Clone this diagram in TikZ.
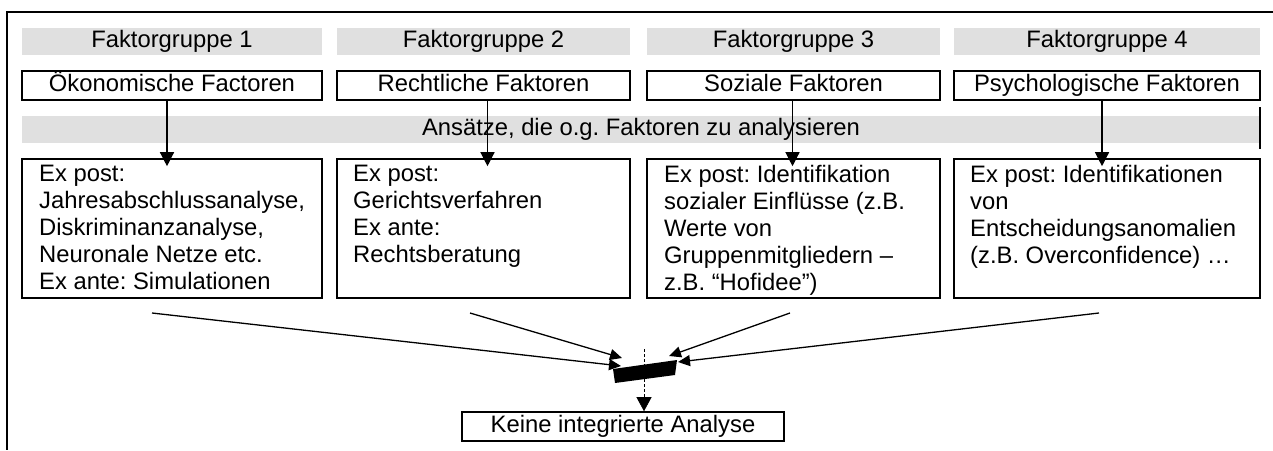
\documentclass[tikz,border=0pt]{standalone}
\usepackage{fontspec}
\setmainfont{Liberation Sans}
\frenchspacing
\usetikzlibrary{arrows.meta}
\definecolor{bandgrey}{RGB}{224,224,224}
\begin{document}
\begin{tikzpicture}[x=1pt,y=-1pt,
  every node/.style={font=\fontsize{23.8}{27}\selectfont\frenchspacing, inner sep=0pt},
  oneline/.style={text height=17pt, text depth=5pt},
  band/.style={oneline, fill=bandgrey, minimum height=27pt},
  factbox/.style={oneline, draw, line width=1.6pt, minimum height=29pt},
  lowbox/.style={draw, line width=1.6pt, minimum height=139pt},
  lowtext/.style={align=left, anchor=north west},
  frame/.style={line width=1.8pt},
  toparrow/.style={line width=1.3pt, -{Triangle[length=14pt,width=14pt]}},
  convarrow/.style={line width=1.3pt, -{Triangle[length=12pt,width=11pt]}},
  dasharrow/.style={line width=0.6pt, dash pattern=on 3pt off 2pt, -{Triangle[length=14pt,width=15pt]}}
]
\useasboundingbox (0,0) rectangle (1273,450);
% outer frame
\coordinate (fa) at (7,12);
\coordinate (fb) at (1273,12);
\coordinate (fc) at (7,450);
\draw[frame] (fb) -- (fa) -- (fc);
% header bands
\node[band, minimum width=300pt] (g1) at (172,41.5) {Faktorgruppe 1};
\node[band, minimum width=293pt] (g2) at (483.5,41.5) {Faktorgruppe 2};
\node[band, minimum width=293pt] (g3) at (793.5,41.5) {Faktorgruppe 3};
\node[band, minimum width=306pt] (g4) at (1107,41.5) {Faktorgruppe 4};
% factor boxes
\node[factbox, minimum width=300pt] (f1) at (172,85.5) {Ökonomische Factoren};
\node[factbox, minimum width=293pt] (f2) at (483.5,85.5) {Rechtliche Faktoren};
\node[factbox, minimum width=293pt] (f3) at (793.5,85.5) {Soziale Faktoren};
\node[factbox, minimum width=306pt] (f4) at (1107,85.5) {Psychologische Faktoren};
% approaches band
\node[band, minimum width=1238pt] (ans) at (641,129.5) {Ansätze, die o.g. Faktoren zu analysieren};
\coordinate (ra) at (1260,107);
\coordinate (rb) at (1260,149);
\draw[frame] (ra) -- (rb);
% lower boxes
\node[lowbox, minimum width=300pt] (l1) at (172,228.5) {};
\node[lowbox, minimum width=293pt] (l2) at (483.5,228.5) {};
\node[lowbox, minimum width=293pt] (l3) at (793.5,228.5) {};
\node[lowbox, minimum width=306pt] (l4) at (1107,228.5) {};
\node[lowtext] (t1) at (39,165) {Ex post:\\Jahresabschlussanalyse,\\Diskriminanzanalyse,\\Neuronale Netze etc.\\Ex ante: Simulationen};
\node[lowtext] (t2) at (353,165) {Ex post:\\Gerichtsverfahren\\Ex ante:\\Rechtsberatung};
\node[lowtext] (t3) at (664,165) {Ex post: Identifikation\\sozialer Einflüsse (z.B.\\Werte von\\Gruppenmitgliedern –\\z.B. “Hofidee”)};
\node[lowtext] (t4) at (970,165) {Ex post: Identifikationen\\von\\Entscheidungsanomalien\\(z.B. Overconfidence) …};
% top arrows
\draw[toparrow] ([xshift=-5pt]f1.south) -- ([xshift=-5pt,yshift=-8pt]l1.north);
\draw[toparrow] ([xshift=4pt]f2.south) -- ([xshift=4pt,yshift=-8pt]l2.north);
\draw[toparrow] ([xshift=-1pt]f3.south) -- ([xshift=-1pt,yshift=-8pt]l3.north);
\draw[toparrow] ([xshift=-5pt]f4.south) -- ([xshift=-5pt,yshift=-8pt]l4.north);
% converging arrows
\coordinate (s1) at (152,313);
\coordinate (s2) at (470,313);
\coordinate (s3) at (790,313);
\coordinate (s4) at (1099,313);
\coordinate (m1) at (621,366);
\coordinate (m2) at (622,358);
\coordinate (m3) at (669,356);
\coordinate (m4) at (678,362);
\draw[convarrow] (s1) -- (m1);
\draw[convarrow] (s2) -- (m2);
\draw[convarrow] (s3) -- (m3);
\draw[convarrow] (s4) -- (m4);
% black bar
\fill (613,369) -- (677,360) -- (675,375) -- (615,383) -- cycle;
% result
\node[factbox, minimum width=322pt] (k) at (623,426.5) {Keine integrierte Analyse};
\coordinate (d0) at (644,349);
\draw[dasharrow] (d0) -- (d0 |- k.north);
\end{tikzpicture}
\end{document}
